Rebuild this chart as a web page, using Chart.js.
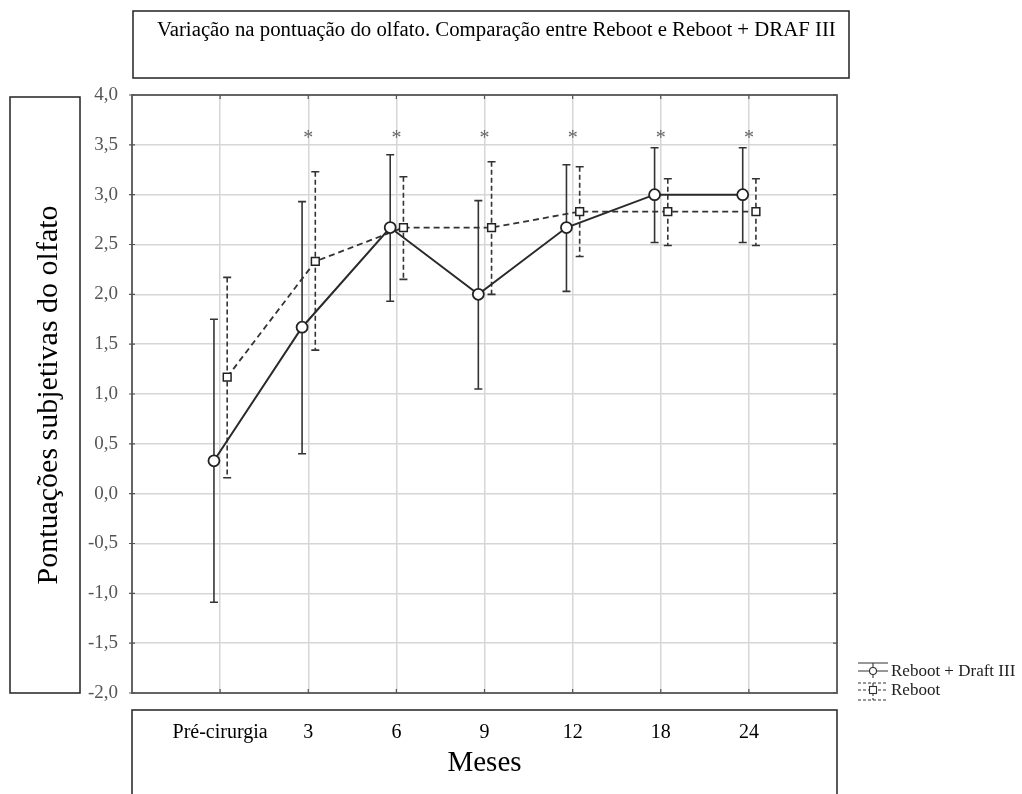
<!DOCTYPE html>
<html lang="pt">
<head>
<meta charset="utf-8">
<title>Variação na pontuação do olfato</title>
<script src="https://cdn.jsdelivr.net/npm/chart.js@4/dist/chart.umd.min.js"></script>
<style>
  html, body { margin: 0; padding: 0; background: #fff; }
  #grafico-wrap { position: relative; width: 1022px; height: 794px; }
</style>
</head>
<body>
<div id="grafico-wrap"><canvas id="grafico-olfato"></canvas></div>
<script>
// categorias do eixo x (meses)
const categorias = ['Pré-cirurgia', '3', '6', '9', '12', '18', '24'];

// Reboot + Draft III: média e limites do intervalo
const mediaDraft = [0.33, 1.67, 2.67, 2.0, 2.67, 3.0, 3.0];
const supDraft   = [1.75, 2.93, 3.40, 2.94, 3.30, 3.47, 3.47];
const infDraft   = [-1.09, 0.40, 1.93, 1.05, 2.03, 2.52, 2.52];

// Reboot: média e limites do intervalo
const mediaReboot = [1.17, 2.33, 2.67, 2.67, 2.83, 2.83, 2.83];
const supReboot   = [2.17, 3.23, 3.18, 3.33, 3.28, 3.16, 3.16];
const infReboot   = [0.16, 1.44, 2.15, 2.0, 2.38, 2.49, 2.49];

// diferença significativa (*)
const significativo = [false, true, true, true, true, true, true];
const alturaAsterisco = 3.6;

// marcas do eixo y
const ticksY = [-2, -1.5, -1, -0.5, 0, 0.5, 1, 1.5, 2, 2.5, 3, 3.5, 4];

const titulo = 'Variação na pontuação do olfato. Comparação entre Reboot e Reboot + DRAF III';
const tituloY = 'Pontuações subjetivas do olfato';
const tituloX = 'Meses';
const nomeDraft = 'Reboot + Draft III';
const nomeReboot = 'Reboot';

const desvioDraft = -0.07;
const desvioReboot = 0.08;
const SERIF = '"Liberation Serif", "Times New Roman", serif';

const pontosDraft = mediaDraft.map((v, i) => ({ x: i + desvioDraft, y: v }));
const pontosReboot = mediaReboot.map((v, i) => ({ x: i + desvioReboot, y: v }));

function barraErro(ctx, x, yTop, yBot, tracejado) {
  ctx.save();
  ctx.strokeStyle = '#333';
  ctx.lineWidth = 1.6;
  ctx.setLineDash(tracejado ? [5, 3] : []);
  ctx.beginPath();
  ctx.moveTo(x, yTop);
  ctx.lineTo(x, yBot);
  ctx.stroke();
  ctx.setLineDash([]);
  ctx.beginPath();
  ctx.moveTo(x - 4, yTop); ctx.lineTo(x + 4, yTop);
  ctx.moveTo(x - 4, yBot); ctx.lineTo(x + 4, yBot);
  ctx.stroke();
  ctx.restore();
}

const molduras = {
  id: 'molduras',
  beforeDatasetsDraw(chart) {
    const { ctx, scales: { x, y } } = chart;
    // barras de erro
    categorias.forEach((c, i) => {
      barraErro(ctx, x.getPixelForValue(i + desvioDraft),
        y.getPixelForValue(supDraft[i]), y.getPixelForValue(infDraft[i]), false);
      barraErro(ctx, x.getPixelForValue(i + desvioReboot),
        y.getPixelForValue(supReboot[i]), y.getPixelForValue(infReboot[i]), true);
    });
  },
  afterDraw(chart) {
    const { ctx, chartArea: a, scales: { x, y } } = chart;
    ctx.save();

    // moldura da área do gráfico
    ctx.strokeStyle = '#555';
    ctx.lineWidth = 1.8;
    ctx.strokeRect(a.left, a.top, a.right - a.left, a.bottom - a.top);

    // pequenos traços nos eixos
    ctx.lineWidth = 1.2;
    ctx.beginPath();
    ticksY.forEach(v => {
      const py = y.getPixelForValue(v);
      ctx.moveTo(a.left - 3, py); ctx.lineTo(a.left + 3, py);
      ctx.moveTo(a.right - 4, py); ctx.lineTo(a.right, py);
    });
    categorias.forEach((c, i) => {
      const px = x.getPixelForValue(i);
      ctx.moveTo(px, a.bottom); ctx.lineTo(px, a.bottom - 4);
      ctx.moveTo(px, a.top); ctx.lineTo(px, a.top + 4);
    });
    ctx.stroke();

    // asteriscos
    ctx.fillStyle = '#666';
    ctx.font = '20px ' + SERIF;
    ctx.textAlign = 'center';
    ctx.textBaseline = 'middle';
    significativo.forEach((s, i) => {
      if (s) ctx.fillText('*', x.getPixelForValue(i), y.getPixelForValue(alturaAsterisco) + 4);
    });

    // caixas de texto
    ctx.strokeStyle = '#222';
    ctx.lineWidth = 1.5;
    ctx.strokeRect(133, 11, 716, 67);
    ctx.strokeRect(10, 97, 70, 596);
    ctx.strokeRect(132, 710, 705, 100);

    ctx.fillStyle = '#000';
    ctx.font = '20.8px ' + SERIF;
    ctx.textAlign = 'left';
    ctx.textBaseline = 'middle';
    ctx.fillText(titulo, 157, 31);

    ctx.font = '29px ' + SERIF;
    ctx.textAlign = 'center';
    ctx.fillText(tituloX, (a.left + a.right) / 2, 763);

    ctx.save();
    ctx.translate(49, 395);
    ctx.rotate(-Math.PI / 2);
    ctx.font = '30px ' + SERIF;
    ctx.fillText(tituloY, 0, 0);
    ctx.restore();

    // legenda
    const lx = 858, lw = 30;
    ctx.strokeStyle = '#333';
    ctx.lineWidth = 1.1;
    ctx.beginPath();
    ctx.moveTo(lx, 663); ctx.lineTo(lx + lw, 663);
    ctx.moveTo(lx, 671); ctx.lineTo(lx + lw, 671);
    ctx.moveTo(lx + lw / 2, 663); ctx.lineTo(lx + lw / 2, 678);
    ctx.stroke();
    ctx.beginPath();
    ctx.fillStyle = '#fff';
    ctx.arc(lx + lw / 2, 671, 3.5, 0, Math.PI * 2);
    ctx.fill(); ctx.stroke();

    ctx.setLineDash([3, 2]);
    ctx.beginPath();
    ctx.moveTo(lx, 683); ctx.lineTo(lx + lw, 683);
    ctx.moveTo(lx, 690); ctx.lineTo(lx + lw, 690);
    ctx.moveTo(lx, 700); ctx.lineTo(lx + lw, 700);
    ctx.moveTo(lx + lw / 2, 683); ctx.lineTo(lx + lw / 2, 700);
    ctx.stroke();
    ctx.setLineDash([]);
    ctx.fillRect(lx + lw / 2 - 3.5, 686.5, 7, 7);
    ctx.strokeRect(lx + lw / 2 - 3.5, 686.5, 7, 7);

    ctx.fillStyle = '#222';
    ctx.font = '17px ' + SERIF;
    ctx.textAlign = 'left';
    ctx.textBaseline = 'middle';
    ctx.fillText(nomeDraft, 891, 672);
    ctx.fillText(nomeReboot, 891, 691);

    ctx.restore();
  }
};

new Chart(document.getElementById('grafico-olfato'), {
  type: 'line',
  data: {
    datasets: [
      {
        label: nomeDraft,
        data: pontosDraft,
        borderColor: '#2a2a2a',
        borderWidth: 2,
        pointStyle: 'circle',
        pointRadius: 5.5,
        pointBorderWidth: 1.8,
        pointBackgroundColor: '#fff',
        pointBorderColor: '#222',
        tension: 0
      },
      {
        label: nomeReboot,
        data: pontosReboot,
        borderColor: '#333',
        borderWidth: 1.8,
        borderDash: [6, 4],
        pointStyle: 'rect',
        pointRadius: 5.5,
        pointBorderWidth: 1.5,
        pointBackgroundColor: '#fff',
        pointBorderColor: '#222',
        tension: 0
      }
    ]
  },
  options: {
    responsive: true,
    maintainAspectRatio: false,
    animation: false,
    layout: { padding: { top: 95, right: 185, left: 0, bottom: 0 } },
    plugins: {
      legend: { display: false },
      tooltip: { enabled: false }
    },
    scales: {
      x: {
        type: 'linear',
        min: -1,
        max: 7,
        afterFit(scale) { scale.height = 101; },
        afterBuildTicks(scale) {
          scale.ticks = [-1, 0, 1, 2, 3, 4, 5, 6, 7].map(v => ({ value: v }));
        },
        border: { display: false },
        grid: {
          drawTicks: false,
          lineWidth: 1.5,
          color: c => (c.tick && c.tick.value >= 0 && c.tick.value <= 6) ? '#d6d6d6' : 'rgba(0,0,0,0)'
        },
        ticks: {
          padding: 28,
          autoSkip: false,
          maxRotation: 0,
          color: '#000',
          font: { family: SERIF, size: 20 },
          callback: v => categorias[v] !== undefined ? categorias[v] : ''
        }
      },
      y: {
        min: -2,
        max: 4,
        afterFit(scale) { scale.width = 132; },
        afterBuildTicks(scale) {
          scale.ticks = ticksY.map(v => ({ value: v }));
        },
        border: { display: false },
        grid: {
          drawTicks: false,
          lineWidth: 1.5,
          color: c => (c.tick && c.tick.value > -2 && c.tick.value < 4) ? '#d6d6d6' : 'rgba(0,0,0,0)'
        },
        ticks: {
          padding: 14,
          color: '#555',
          font: { family: SERIF, size: 19 },
          callback: v => v.toFixed(1).replace('.', ',')
        }
      }
    }
  },
  plugins: [molduras]
});
</script>
</body>
</html>
